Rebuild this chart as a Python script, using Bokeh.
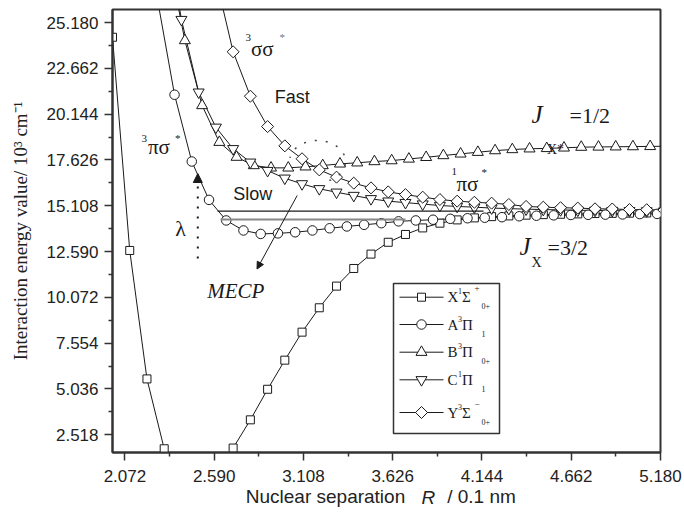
import numpy as np
from bokeh.plotting import figure
from bokeh.models import (Range1d, FixedTicker, NumeralTickFormatter, Label, Arrow, NormalHead,
                          LinearAxis)
from bokeh.embed import file_html
from bokeh.resources import INLINE

# ---------------- data ----------------
x_X = [2.0, 2.1, 2.2, 2.3, 2.4, 2.5, 2.6, 2.7, 2.8, 2.9, 3.0, 3.1, 3.2, 3.3, 3.4, 3.5, 3.6,
       3.7, 3.8, 3.9, 4.0, 4.1, 4.2, 4.3, 4.4, 4.5, 4.6, 4.7, 4.8, 4.9, 5.0, 5.1, 5.2]
y_X = [24.37, 12.65, 5.59, 1.75, 0.55, 0.15, 0.50, 1.79, 3.34, 5.02, 6.62, 8.16, 9.50, 10.69,
       11.66, 12.45, 13.10, 13.53, 13.89, 14.15, 14.33, 14.44, 14.51, 14.55, 14.59, 14.62,
       14.64, 14.66, 14.68, 14.69, 14.70, 14.71, 14.72]

x_A = [2.26, 2.36, 2.46, 2.56, 2.66, 2.76, 2.86, 2.96, 3.06, 3.16, 3.26, 3.36, 3.46, 3.56, 3.66,
       3.76, 3.86, 3.96, 4.06, 4.16, 4.26, 4.36, 4.46, 4.56, 4.66, 4.76, 4.86, 4.96, 5.06, 5.16]
y_A = [26.5, 21.21, 17.54, 15.43, 14.30, 13.75, 13.56, 13.59, 13.65, 13.75, 13.87, 13.97, 14.06,
       14.15, 14.25, 14.30, 14.34, 14.39, 14.42, 14.45, 14.48, 14.53, 14.56, 14.58, 14.60, 14.61,
       14.62, 14.63, 14.65, 14.66]

x_B = [2.32, 2.42, 2.52, 2.62, 2.72, 2.82, 2.92, 3.02, 3.12, 3.22, 3.32, 3.42, 3.52, 3.62, 3.72,
       3.82, 3.92, 4.02, 4.12, 4.22, 4.32, 4.42, 4.52, 4.62, 4.72, 4.82, 4.92, 5.02, 5.12, 5.22]
y_B = [29.0, 24.19, 20.62, 18.60, 17.78, 17.32, 17.19, 17.19, 17.25, 17.32, 17.41, 17.47, 17.54,
       17.59, 17.68, 17.77, 17.87, 17.96, 18.05, 18.14, 18.20, 18.24, 18.26, 18.29, 18.33, 18.34,
       18.35, 18.36, 18.37, 18.38]

x_C = [2.3, 2.4, 2.5, 2.6, 2.7, 2.8, 2.9, 3.0, 3.1, 3.2, 3.3, 3.4, 3.5, 3.6, 3.7, 3.8, 3.9, 4.0,
       4.1, 4.2, 4.3, 4.4, 4.5, 4.6, 4.7, 4.8, 4.9, 5.0, 5.1, 5.2]
y_C = [31.0, 25.34, 21.35, 19.42, 18.24, 17.50, 17.04, 16.62, 16.31, 16.04, 15.85, 15.67, 15.49,
       15.36, 15.28, 15.20, 15.12, 15.07, 15.03, 14.98, 14.95, 14.92, 14.90, 14.88, 14.86, 14.85,
       14.84, 14.83, 14.82, 14.81]

x_Y = [2.6, 2.7, 2.8, 2.9, 3.0, 3.1, 3.2, 3.3, 3.4, 3.5, 3.6, 3.7, 3.8, 3.9, 4.0, 4.1, 4.2, 4.3,
       4.4, 4.5, 4.6, 4.7, 4.8, 4.9, 5.0, 5.1, 5.2]
y_Y = [27.6, 23.57, 21.13, 19.46, 18.40, 17.69, 17.08, 16.68, 16.35, 16.09, 15.87, 15.72, 15.58,
       15.45, 15.36, 15.30, 15.25, 15.18, 15.07, 15.03, 15.00, 14.98, 14.94, 14.93, 14.90, 14.89,
       14.87]

x_ticks = [2.072, 2.590, 3.108, 3.626, 4.144, 4.662, 5.180]
x_minor = [2.331, 2.849, 3.367, 3.885, 4.403, 4.921]
y_ticks = [2.518, 5.036, 7.554, 10.072, 12.590, 15.108, 17.626, 20.144, 22.662, 25.180]
y_minor = [3.777, 6.295, 8.813, 11.331, 13.849, 16.367, 18.885, 21.403, 23.921]

x_title_parts = ["Nuclear separation", "R", "/ 0.1 nm"]
y_title = "Interaction energy value/ 10³ cm⁻¹"

# ---------------- layout ----------------
FL, FR, FT, FB = 112, 660, 9, 452
XR = (2.0, 5.18)
YR = (1.545, 25.895)
INK = "#1a1a1a"
SERIF = "Liberation Serif"
SANS = "Liberation Sans"

p = figure(width=684, height=518, x_range=Range1d(*XR), y_range=Range1d(*YR),
           output_backend="svg", toolbar_location=None,
           min_border_left=FL, min_border_right=684 - FR, min_border_top=FT,
           min_border_bottom=518 - FB)
p.grid.visible = False
p.outline_line_color = "#333333"
p.outline_line_width = 2
p.background_fill_color = "white"
p.border_fill_color = "white"

for ax, ticks, minor in ((p.xaxis[0], x_ticks, x_minor), (p.yaxis[0], y_ticks, y_minor)):
    ax.ticker = FixedTicker(ticks=ticks, minor_ticks=minor)
    ax.formatter = NumeralTickFormatter(format="0.000")
    ax.major_label_text_font = SANS
    ax.major_label_text_font_size = "17px"
    ax.major_label_text_color = "#222222"
    ax.axis_line_width = 2
    ax.axis_line_color = "#333333"
    ax.major_tick_line_color = "#333333"
    ax.minor_tick_line_color = "#333333"
    ax.major_tick_line_width = 1.5
    ax.minor_tick_line_width = 1.5
    ax.major_tick_in = 0
    ax.major_tick_out = 8
    ax.minor_tick_in = 0
    ax.minor_tick_out = 4

p.xaxis.major_label_standoff = 9
p.yaxis.major_label_standoff = 6
p.yaxis.axis_label = y_title
p.yaxis.axis_label_text_font = SERIF
p.yaxis.axis_label_text_font_style = "normal"
p.yaxis.axis_label_text_font_size = "19px"
p.yaxis.axis_label_text_color = "#222222"
p.yaxis.axis_label_standoff = 13


def dx(px):
    return XR[0] + (px - FL) * (XR[1] - XR[0]) / (FR - FL)


def dy(py):
    return YR[1] - (py - FT) * (YR[1] - YR[0]) / (FB - FT)


def lab(px, py, text, size, font=SERIF, style="normal", align="left", baseline="middle", color=INK):
    p.add_layout(Label(x=px - FL, y=FB - py, x_units="screen", y_units="screen", text=text,
                       text_font=font, text_font_size=f"{size}px", text_font_style=style,
                       text_align=align, text_baseline=baseline, text_color=color))


# x-axis title: two label-only axes below the numeric axis (upright parts, italic R)
def title_axis(positions, texts, style, standoff):
    locs = [round(dx(v), 4) for v in positions]
    ax = LinearAxis(ticker=FixedTicker(ticks=locs, minor_ticks=[]),
                    major_label_overrides={k: t for k, t in zip(locs, texts)})
    ax.axis_line_color = None
    ax.major_tick_line_color = None
    ax.minor_tick_line_color = None
    ax.major_tick_in = 0
    ax.major_tick_out = 0
    ax.minor_tick_in = 0
    ax.minor_tick_out = 0
    ax.major_label_text_font = SANS
    ax.major_label_text_font_size = "19px"
    ax.major_label_text_font_style = style
    ax.major_label_text_color = "#222222"
    ax.major_label_standoff = standoff
    p.add_layout(ax, "below")
    return ax


title_axis([325.0, 481.0], [x_title_parts[0], x_title_parts[2]], "normal", 1)
title_axis([427.8], [x_title_parts[1]], "italic", -23)

# ---------------- curves ----------------
series = [
    (x_X, y_X, "square", 8, 0.0),
    (x_A, y_A, "circle", 9.5, 0.0),
    (x_B, y_B, "triangle", 11, 0.0),
    (x_C, y_C, "inverted_triangle", 11, 0.0),
    (x_Y, y_Y, "square", 8.5, np.pi / 4),
]
for xs, ys, mk, sz, ang in series:
    p.line(xs, ys, line_color=INK, line_width=1)
for xs, ys, mk, sz, ang in series:
    p.scatter(xs, ys, marker=mk, size=sz, angle=ang, fill_color="white",
              line_color=INK, line_width=1)

# ---------------- annotations ----------------
p.segment(x0=[dx(217)], y0=[dy(210.7)], x1=[dx(483)], y1=[dy(210.7)], line_color=INK, line_width=1.2)
p.segment(x0=[dx(220)], y0=[dy(219)], x1=[dx(405)], y1=[dy(219)], line_color="#888888", line_width=2)

t = np.linspace(np.deg2rad(-65), np.deg2rad(170), 60)
ex = [dx(317 + 28 * np.cos(a)) for a in t]
ey = [dy(161 - 21 * np.sin(a)) for a in t]
p.line(ex, ey, line_color="#444444", line_width=1.5, line_dash="2 9")

p.add_layout(Arrow(x_start=dx(197.3), y_start=dy(258), x_end=dx(197.3), y_end=dy(173),
                   line_color=INK, line_width=2, line_dash="2 8",
                   end=NormalHead(size=9, fill_color=INK, line_color=INK, line_width=1)))
p.add_layout(Arrow(x_start=dx(296.7), y_start=dy(195), x_end=dx(256.5), y_end=dy(268.5),
                   line_color=INK, line_width=1,
                   end=NormalHead(size=7, fill_color=INK, line_color=INK, line_width=1)))

lab(245, 37, "3", 11)
lab(250.5, 48, "σσ", 21)
lab(279, 36, "*", 11, color="#777777")
lab(141, 137.5, "3", 11)
lab(147.5, 146.5, "πσ", 21)
lab(174.5, 137, "*", 11)
lab(451, 170.5, "1", 11)
lab(456, 183.3, "πσ", 21)
lab(481, 171.5, "*", 11)

lab(274.3, 96.7, "Fast", 18, font=SANS)
lab(232.7, 193.3, "Slow", 18, font=SANS)
lab(180, 228, "λ", 22, align="center")
lab(206.7, 290, "MECP", 21, style="italic")

lab(531, 114, "J", 25, style="italic")
lab(546.5, 149, "X*", 14)
lab(569, 115, "=1/2", 22)
lab(519, 246, "J", 25, style="italic")
lab(531, 262, "X", 14)
lab(547, 247, "=3/2", 22)

# ---------------- legend (drawn by hand) ----------------
LB = (393, 283, 499, 433)
p.quad(left=[dx(LB[0])], right=[dx(LB[2])], top=[dy(LB[1])], bottom=[dy(LB[3])],
       fill_color="white", line_color="#333333", line_width=1.5)
rows_py = [296.7, 324.0, 351.7, 379.3, 412.0]
leg_main = [("X", "1", "Σ", "+", "0+"), ("A", "3", "Π", "", "1"), ("B", "3", "Π", "", "0+"),
            ("C", "1", "Π", "", "1"), ("Y", "3", "Σ", "−", "0+")]
for (xs, ys, mk, sz, ang), ry, (m1, s1, g, s2, sub) in zip(series, rows_py, leg_main):
    p.segment(x0=[dx(399)], y0=[dy(ry)], x1=[dx(443)], y1=[dy(ry)], line_color=INK, line_width=1)
    p.scatter([dx(421)], [dy(ry)], marker=mk, size=sz, angle=ang, fill_color="white",
              line_color=INK, line_width=1)
    lab(447, ry, m1, 15)
    lab(457.5, ry - 6, s1, 8)
    lab(461.5, ry, g, 15)
    if s2:
        lab(474, ry - 9, s2, 9)
    lab(481, ry + 9, sub, 8)

open("out.html", "w").write(file_html(p, INLINE))
